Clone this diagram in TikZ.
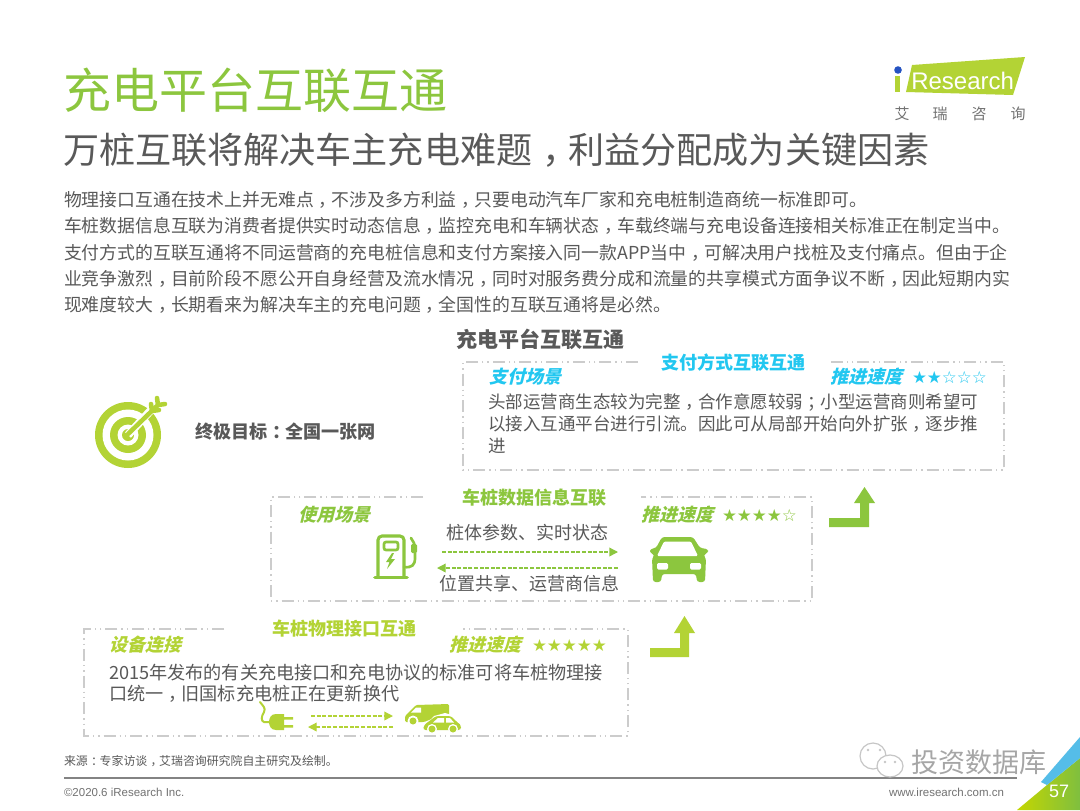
\documentclass[tikz,border=0pt]{standalone}
\usepackage{fontspec}
\setmainfont{Noto Sans CJK SC}
\newfontfamily\cjkit[FakeSlant=0.25]{Noto Sans CJK SC}
\newfontfamily\latin{Liberation Sans}
\newfontfamily\sym{DejaVu Sans}
\usetikzlibrary{arrows.meta}
\definecolor{titlegreen}{HTML}{8CC63E}
\definecolor{lime}{HTML}{B3D335}
\definecolor{midgreen}{HTML}{8CC63E}
\definecolor{sky}{HTML}{22C7F0}
\definecolor{ink}{HTML}{595959}
\definecolor{dashgray}{HTML}{CCCCCC}
\definecolor{cornerblue}{HTML}{55BDE8}
\definecolor{cornerlime}{HTML}{C4D600}
\definecolor{cornergreen}{HTML}{7FBF3F}
\newcommand{\pxs}[1]{\fontsize{\dimexpr#1pt*3/4\relax}{\dimexpr#1pt\relax}\selectfont}
\newcommand{\pnc}[1]{\kern.28em#1\kern-.28em}
\tikzset{
  txt/.style={anchor=west,inner sep=0pt,outer sep=0pt,text=ink},
  bodyline/.style={txt,font=\pxs{17.5}},
  lead/.style={txt,font=\pxs{17.85}},
  head/.style={anchor=center,inner sep=0pt,font=\bfseries\pxs{18}},
  scene/.style={txt,font=\cjkit\bfseries\pxs{18}},
  stars/.style={txt,font=\sym\pxs{16.7}},
  framed/.style={draw=dashgray,line width=1.4pt,dash pattern=on 9pt off 3pt on 1pt off 3pt on 1pt off 3pt},
  flow/.style={line width=1pt,dash pattern=on 3pt off 1.2pt,-{Triangle[length=6.5pt,width=6.5pt]}},
  logochar/.style={text=ink!85,inner sep=0pt,font=\pxs{15}},
}
\begin{document}
\begin{tikzpicture}[x=0.75pt,y=-0.75pt]
\useasboundingbox (0,0) rectangle (1080,810);
\fill[white] (0,0) rectangle (1080,810);

% titles
\node[txt,text=titlegreen,font=\pxs{48}] (title) at (63,90) {充电平台互联互通};
\node[txt,text=ink,font=\pxs{36.1}] (subtitle) at (63,150) {万桩互联将解决车主充电难题\pnc{，}利益分配成为关键因素};

% logo
\fill[lime] (912,65) -- (1025,57) -- (1013,95) -- (906,92) -- cycle;
\fill[lime] (895,76) rectangle (900,92);
\fill[blue!45!cornerblue!80!black] (898,70) circle (3.8);
\node[anchor=west,inner sep=0pt,text=white,font=\latin\pxs{24}] (logotext) at (911,81) {Research};
\node[logochar] (logoa) at (902,114) {艾};
\node[logochar] (logob) at (940,114) {瑞};
\node[logochar] (logoc) at (979,114) {咨};
\node[logochar] (logod) at (1018,114) {询};

% lead text
\node[lead] (l1) at (64,200) {物理接口互通在技术上并无难点\pnc{，}不涉及多方利益\pnc{，}只要电动汽车厂家和充电桩制造商统一标准即可。};
\node[lead] (l2) at (64,226) {车桩数据信息互联为消费者提供实时动态信息\pnc{，}监控充电和车辆状态\pnc{，}车载终端与充电设备连接相关标准正在制定当中。};
\node[lead] (l3) at (64,253) {支付方式的互联互通将不同运营商的充电桩信息和支付方案接入同一款APP当中\pnc{，}可解决用户找桩及支付痛点。但由于企};
\node[lead] (l4) at (64,279) {业竞争激烈\pnc{，}目前阶段不愿公开自身经营及流水情况\pnc{，}同时对服务费分成和流量的共享模式方面争议不断\pnc{，}因此短期内实};
\node[lead] (l5) at (64,305) {现难度较大\pnc{，}长期看来为解决车主的充电问题\pnc{，}全国性的互联互通将是必然。};

\node[txt,font=\bfseries\pxs{21}] (mainhead) at (456,339) {充电平台互联互通};

% target icon
\fill[lime] (128,435) circle (33);
\fill[white] (128,435) circle (25.5);
\fill[lime] (128,435) circle (18);
\fill[white] (128,435) circle (10.5);
\fill[lime] (128,435) circle (6);
\draw[white,line width=6pt] (128,435) -- (152,409);
\draw[lime,line width=3.4pt,line cap=round] (128,434) -- (158,405);
\draw[lime,line width=3.4pt,line cap=round] (151,404) -- (152,411) -- (159,410);
\draw[lime,line width=3.4pt,line cap=round] (157,398) -- (158,405) -- (165,404);
\node[txt,font=\bfseries\pxs{18.1}] (goal) at (195,432) {终极目标\pnc{：}全国一张网};

% box 1: payment
\draw[framed] (638,362) -- (463,362) -- (463,470) -- (1004,470) -- (1004,362) -- (828,362);
\node[head,text=sky] (h1) at (733,363) {支付方式互联互通};
\node[scene,text=sky] (s1) at (489,377) {支付场景};
\node[scene,text=sky] (p1) at (830,377) {推进速度};
\node[stars,text=sky] (r1) at (912,377) {★★☆☆☆};
\node[bodyline] (b1a) at (488,402) {头部运营商生态较为完整\pnc{，}合作意愿较弱\pnc{；}小型运营商则希望可};
\node[bodyline] (b1b) at (488,424) {以接入互通平台进行引流。因此可从局部开始向外扩张\pnc{，}逐步推};
\node[bodyline] (b1c) at (488,446) {进};

% elbow arrow 1
\fill[midgreen] (829,518) -- (860,518) -- (860,503) -- (854,503) -- (864.5,487) -- (875,503) -- (869,503) -- (869,527) -- (829,527) -- cycle;

% box 2: data
\draw[framed] (423,497) -- (271,497) -- (271,601) -- (812,601) -- (812,497) -- (641,497);
\node[head,text=midgreen] (h2) at (534,498) {车桩数据信息互联};
\node[scene,text=midgreen] (s2) at (298,515) {使用场景};
\node[scene,text=midgreen] (p2) at (641,515) {推进速度};
\node[stars,text=midgreen] (r2) at (722,515) {★★★★☆};
\node[txt,font=\pxs{18}] (t2a) at (446,533) {桩体参数、实时状态};
\node[txt,font=\pxs{18}] (t2b) at (439,584) {位置共享、运营商信息};

% pump icon
\draw[midgreen,line width=2.3pt,rounded corners=3pt] (378,577) -- (378,536) -- (404,536) -- (404,577);
\draw[midgreen,line width=2.8pt,line cap=round] (375,577.5) -- (407,577.5);
\draw[midgreen,line width=2pt,rounded corners=1.5pt] (384,542) rectangle (398,550);
\fill[midgreen] (392,553) -- (386,562) -- (389.5,562) -- (387,569) -- (395,559) -- (391,559) -- (394,553) -- cycle;
\draw[midgreen,line width=2pt,line cap=round] (404,567) .. controls (412,568) and (415,565) .. (415,558) -- (415,548) .. controls (415,544) and (413,541) .. (411,538);
\fill[midgreen,rounded corners=1pt] (411,544) rectangle (417,553);
\coordinate (pumpout) at (442,552);
\coordinate (pumpin) at (437,568);

% car icon
\fill[midgreen,rounded corners=2pt] (653,582) -- (652,558) -- (655,555) -- (650,553) -- (650,549) -- (656,548) -- (662,537) -- (693,537) -- (700,548) -- (708,549) -- (708,553) -- (703,555) -- (706,558) -- (705,582) -- (697,582) -- (696,574) -- (662,574) -- (661,582) -- cycle;
\fill[white,rounded corners=1pt] (664,541.5) -- (691,541.5) -- (698,556) -- (657,556) -- cycle;
\fill[white,rounded corners=1pt] (657,563) rectangle (668,569.5);
\fill[white,rounded corners=1pt] (690,563) rectangle (701,569.5);
\coordinate (carin) at (618,552);
\coordinate (carout) at (618,568);
\draw[flow,midgreen] (pumpout) -- (carin);
\draw[flow,midgreen] (carout) -- (pumpin);

% elbow arrow 2
\fill[lime] (650,648) -- (680,648) -- (680,633) -- (674,633) -- (684.5,616) -- (695,633) -- (689,633) -- (689,657) -- (650,657) -- cycle;

% box 3: physical
\draw[framed] (224,629) -- (84,629) -- (84,736) -- (628,736) -- (628,629) -- (463,629);
\node[head,text=lime] (h3) at (344,629) {车桩物理接口互通};
\node[scene,text=lime] (s3) at (109,645) {设备连接};
\node[scene,text=lime] (p3) at (449,645) {推进速度};
\node[stars,text=lime] (r3) at (532,645) {★★★★★};
\node[txt,font=\pxs{18.15}] (b3a) at (109,673) {2015年发布的有关充电接口和充电协议的标准可将车桩物理接};
\node[txt,font=\pxs{18.15}] (b3b) at (109,694) {口统一\pnc{，}旧国标充电桩正在更新换代};

% plug icon
\draw[lime,line width=1.5pt,line cap=round] (260,702) .. controls (263,706) and (266,708) .. (264,712) .. controls (261,717) and (261,721) .. (264,722) -- (271,722);
\fill[lime] (276,714) -- (284,714) -- (284,717) -- (293,717) -- (293,719.5) -- (284,719.5) -- (284,725) -- (293,725) -- (293,727.5) -- (284,727.5) -- (284,730) -- (276,730) .. controls (271,730) and (269,726) .. (269,722) .. controls (269,718) and (271,714) .. (276,714) -- cycle;
\coordinate (plugout) at (311,716);
\coordinate (plugin) at (308,727);

% vehicles icon
\fill[lime,rounded corners=1pt] (405,722) -- (405,716) -- (416,705) -- (449,704) -- (449,716) -- (434,718) -- (424,722) -- cycle;
\fill[white] (411,712.5) -- (416,707.5) -- (421,707.5) -- (421,712.5) -- cycle;
\fill[white] (413,721) circle (5.5);
\fill[lime] (413,721) circle (3.5);
\fill[white] (424,727) -- (434,716) -- (445,713) -- (456,716) -- (464,724) -- (464,733) -- (422,733) -- cycle;
\fill[lime,rounded corners=2pt] (423,730) -- (424,725) -- (436,716) -- (451,716) -- (458,723) -- (461,725) -- (461,730) -- cycle;
\fill[white] (438,718) -- (444,718) -- (444,722.5) -- (433,722.5) -- cycle;
\fill[white] (446,718) -- (450,718) -- (454,722.5) -- (446,722.5) -- cycle;
\fill[white] (432,729) circle (5);
\fill[white] (453,729) circle (5);
\fill[lime] (432,729) circle (3.5);
\fill[lime] (453,729) circle (3.5);
\coordinate (vehin) at (393,716);
\coordinate (vehout) at (393,727);
\draw[flow,lime] (plugout) -- (vehin);
\draw[flow,lime] (vehout) -- (plugin);

% footer
\node[txt,font=\pxs{11.9}] (src) at (64,761) {来源\pnc{：}专家访谈\pnc{，}艾瑞咨询研究院自主研究及绘制。};
\draw[ink!75,line width=0.8pt] (64,778) -- (1017,778);
\node[txt,text=ink!85,font=\latin\pxs{11.5}] (copy) at (64,792) {©2020.6 iResearch Inc.};
\node[txt,text=ink!85,font=\latin\pxs{11.5}] (web) at (889,792) {www.iresearch.com.cn};

% corner
\shade[left color=cornerlime,right color=cornergreen] (1047,785) -- (1080,758) -- (1080,810) -- (1017,810) -- cycle;
\fill[cornerblue] (1080,737) -- (1041,782) -- (1047,785) -- (1080,758) -- cycle;
\node[anchor=center,inner sep=0pt,text=white,font=\latin\pxs{18}] (page) at (1059,791) {57};

% watermark
\draw[gray!45,fill=white,line width=0.9pt] (873,756) circle (13);
\draw[gray!45,fill=white,line width=0.9pt] (890,766) ellipse (13 and 11);
\fill[gray!45] (868,750) circle (1.3) (880,750) circle (1.3) (885,762) circle (1.3) (895,762) circle (1.3);
\node[txt,text=gray!70,font=\pxs{27}] (wm) at (911,762) {投资数据库};
\end{tikzpicture}
\end{document}
